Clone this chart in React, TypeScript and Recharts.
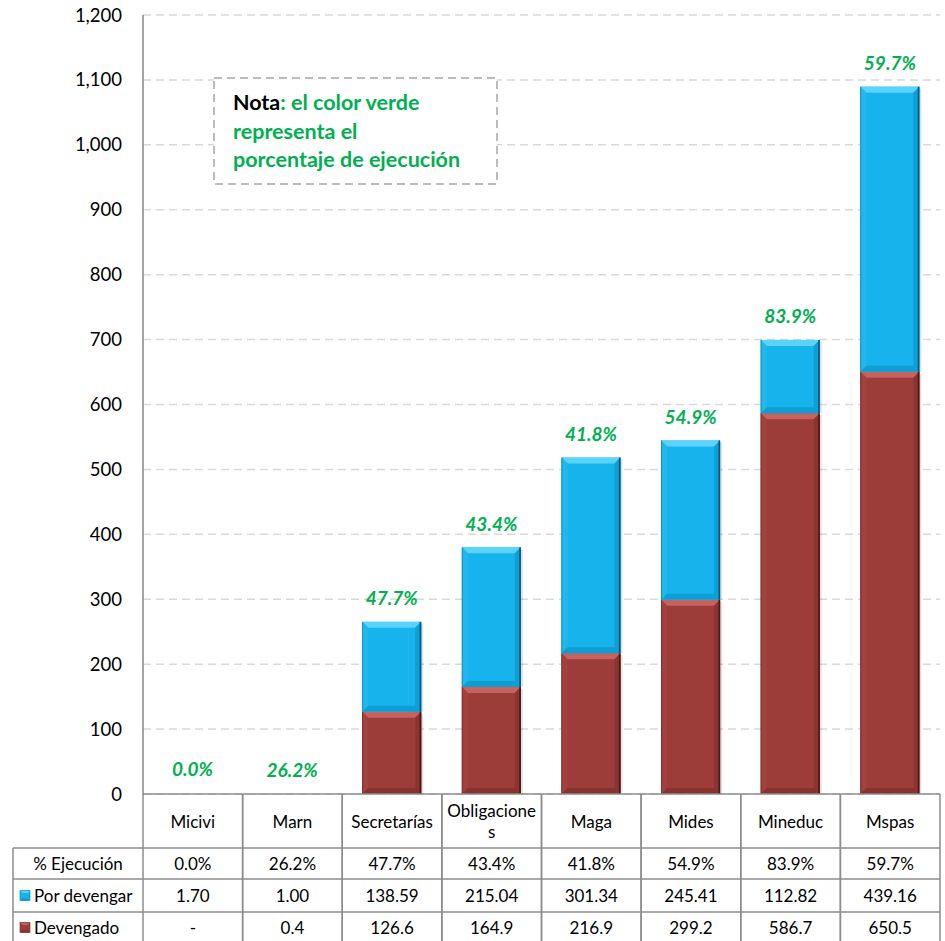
import React from 'react';
import { BarChart, Bar, XAxis, YAxis, CartesianGrid, LabelList } from 'recharts';

const categories = ['Micivi', 'Marn', 'Secretarías', 'Obligaciones', 'Maga', 'Mides', 'Mineduc', 'Mspas'];
const categoryLines = [['Micivi'], ['Marn'], ['Secretarías'], ['Obligacione', 's'], ['Maga'], ['Mides'], ['Mineduc'], ['Mspas']];
const porDevengar = [1.7, 1.0, 138.59, 215.04, 301.34, 245.41, 112.82, 439.16];
const devengado = [0, 0.4, 126.6, 164.9, 216.9, 299.2, 586.7, 650.5];
const ejecucion = [0.0, 26.2, 47.7, 43.4, 41.8, 54.9, 83.9, 59.7];
const yTicks = [0, 100, 200, 300, 400, 500, 600, 700, 800, 900, 1000, 1100, 1200];
const rowLabels = ['% Ejecución', 'Por devengar', 'Devengado'];
const notaLines = ['Nota', ': el color verde', 'representa el', 'porcentaje de ejecución'];

const data = categories.map((c, i) => ({
  name: c,
  devengado: devengado[i],
  porDevengar: porDevengar[i],
  ejecucion: ejecucion[i],
}));

const FONT = 'Lato, "Open Sans", sans-serif';
const GREEN = '#00b050';
const BORDER = '#8c8c8c';
const W = 945;
const H = 941;
const PLOT_LEFT = 143;
const PLOT_RIGHT = 940;
const BAND = (PLOT_RIGHT - PLOT_LEFT) / categories.length;

const BLUE = { base: '#17b3ec', top: '#5ad3fa', left: '#22b8ee', right: '#0f9fd4', bottom: '#0e9ed3', edge: '#0a5878', stroke: '#0c86b5' };
const RED = { base: '#9c3d3a', top: '#c7625e', left: '#a2423f', right: '#8c3432', bottom: '#873130', edge: '#4a1816', stroke: '#7a2a28' };

const bevelShape = (pal: any) => (props: any) => {
  const { x, y, width, height } = props;
  if (!height || height < 2 || !width) return <g />;
  const b = Math.min(6, height / 2, width / 2);
  const x2 = x + width;
  const y2 = y + height;
  return (
    <g>
      <rect x={x2} y={y + 2} width={2} height={height - 2} fill="#000" opacity={0.12} />
      <rect x={x} y={y} width={width} height={height} fill={pal.base} />
      <polygon points={`${x},${y} ${x2},${y} ${x2 - b},${y + b} ${x + b},${y + b}`} fill={pal.top} />
      <polygon points={`${x},${y} ${x + b},${y + b} ${x + b},${y2 - b} ${x},${y2}`} fill={pal.left} />
      <polygon points={`${x2},${y} ${x2 - b},${y + b} ${x2 - b},${y2 - b} ${x2},${y2}`} fill={pal.right} />
      <polygon points={`${x},${y2} ${x + b},${y2 - b} ${x2 - b},${y2 - b} ${x2},${y2}`} fill={pal.bottom} />
      <line x1={x2 - 0.8} y1={y} x2={x2 - 0.8} y2={y2} stroke={pal.edge} strokeWidth={1.6} />
      <line x1={x + 0.4} y1={y} x2={x + 0.4} y2={y2} stroke={pal.stroke} strokeWidth={0.8} />
    </g>
  );
};

const Icon = ({ x, y, pal }: any) => {
  const s = 10;
  const b = 2.5;
  return (
    <g>
      <rect x={x} y={y} width={s} height={s} fill={pal.base} />
      <polygon points={`${x},${y} ${x + s},${y} ${x + s - b},${y + b} ${x + b},${y + b}`} fill={pal.top} />
      <polygon points={`${x},${y + s} ${x + b},${y + s - b} ${x + s - b},${y + s - b} ${x + s},${y + s}`} fill={pal.bottom} />
      <rect x={x} y={y} width={s} height={s} fill="none" stroke={pal.stroke} strokeWidth={0.6} />
    </g>
  );
};

const fmtDev = (v: number) => (v === 0 ? '-' : v.toFixed(1));

const TableTick = (props: any) => {
  const { x, y, payload, index } = props;
  const i = payload && typeof payload.index === 'number' ? payload.index : index;
  const x0 = x - BAND / 2;
  const x1 = x + BAND / 2;
  const rows = [y, y + 54, y + 85, y + 118, y + 152];
  const centers = [(rows[1] + rows[2]) / 2, (rows[2] + rows[3]) / 2, (rows[3] + rows[4] - 3) / 2];
  const lines = categoryLines[i] || [String(payload.value)];
  const headerCenter = (rows[0] + rows[1]) / 2;
  const lh = 21;
  const cellVals = [ejecucion[i].toFixed(1) + '%', porDevengar[i].toFixed(2), fmtDev(devengado[i])];
  const lineProps = { stroke: BORDER, strokeWidth: 1.5 };
  const leftX = 13;
  const fs = 17;
  return (
    <g>
      <line x1={x0} y1={rows[0]} x2={x1} y2={rows[0]} {...lineProps} />
      <line x1={x0} y1={rows[0]} x2={x0} y2={rows[4]} {...lineProps} />
      <line x1={x1} y1={rows[0]} x2={x1} y2={rows[4]} {...lineProps} />
      {rows.slice(1).map((ry, k) => (
        <line key={k} x1={x0} y1={ry} x2={x1} y2={ry} {...lineProps} />
      ))}
      {lines.map((t, k) => (
        <text
          key={k}
          x={x}
          y={headerCenter + (k - (lines.length - 1) / 2) * lh}
          textAnchor="middle"
          dominantBaseline="central"
          fontFamily={FONT}
          fontSize={fs}
          fill="#000"
        >
          {t}
        </text>
      ))}
      {cellVals.map((t, k) => (
        <text key={k} x={x} y={centers[k]} textAnchor="middle" dominantBaseline="central" fontFamily={FONT} fontSize={fs} fill="#000">
          {t}
        </text>
      ))}
      {i === 0 && (
        <g>
          <line x1={leftX} y1={rows[1]} x2={leftX} y2={rows[4]} {...lineProps} />
          {rows.slice(1).map((ry, k) => (
            <line key={k} x1={leftX} y1={ry} x2={x0} y2={ry} {...lineProps} />
          ))}
          <text x={(leftX + x0) / 2} y={centers[0]} textAnchor="middle" dominantBaseline="central" fontFamily={FONT} fontSize={fs} fill="#000">
            {rowLabels[0]}
          </text>
          <Icon x={20} y={centers[1] - 5} pal={BLUE} />
          <text x={34} y={centers[1]} dominantBaseline="central" fontFamily={FONT} fontSize={fs} fill="#000">
            {rowLabels[1]}
          </text>
          <Icon x={20} y={centers[2] - 5} pal={RED} />
          <text x={34} y={centers[2]} dominantBaseline="central" fontFamily={FONT} fontSize={fs} fill="#000">
            {rowLabels[2]}
          </text>
        </g>
      )}
    </g>
  );
};

const PctLabel = (props: any) => {
  const { x, y, width, value } = props;
  return (
    <text
      x={x + width / 2}
      y={y - 24}
      textAnchor="middle"
      dominantBaseline="central"
      fontFamily={FONT}
      fontSize={19}
      fontWeight="bold"
      fontStyle="italic"
      fill={GREEN}
    >
      {Number(value).toFixed(1)}%
    </text>
  );
};

const Nota = () => (
  <svg width={W} height={H} style={{ position: 'absolute', left: 0, top: 0, pointerEvents: 'none' }}>
    <rect x={214} y={78} width={283} height={106} fill="#fff" stroke="#a6a6a6" strokeWidth={1.5} strokeDasharray="8 5" />
    <text x={233} y={110} fontFamily={FONT} fontSize={21.5} fontWeight="bold">
      <tspan fill="#000">{notaLines[0]}</tspan>
      <tspan fill={GREEN}>{notaLines[1]}</tspan>
    </text>
    <text x={233} y={139} fontFamily={FONT} fontSize={21.5} fontWeight="bold" fill={GREEN}>
      {notaLines[2]}
    </text>
    <text x={233} y={167} fontFamily={FONT} fontSize={21.5} fontWeight="bold" fill={GREEN}>
      {notaLines[3]}
    </text>
  </svg>
);

export default function App() {
  return (
    <div style={{ position: 'absolute', left: 0, top: 0, width: W, height: H, background: '#fff', overflow: 'hidden' }}>
      <BarChart width={W} height={H} data={data} margin={{ top: 15, right: W - PLOT_RIGHT, left: 0, bottom: 0 }}>
        <CartesianGrid vertical={false} stroke="#d9d9d9" strokeWidth={1.5} strokeDasharray="8 5" />
        <XAxis
          dataKey="name"
          height={H - 15 - 779}
          axisLine={false}
          tickLine={false}
          tickSize={0}
          tickMargin={0}
          interval={0}
          tick={<TableTick />}
        />
        <YAxis
          width={PLOT_LEFT}
          domain={[0, 1200]}
          ticks={yTicks}
          interval={0}
          tickLine={false}
          tickSize={0}
          tickMargin={21}
          axisLine={{ stroke: '#868686', strokeWidth: 1.5 }}
          tick={{ fontFamily: FONT, fontSize: 18.5, fill: '#000' }}
          tickFormatter={(v: number) => v.toLocaleString('en-US')}
        />
        <Bar dataKey="devengado" stackId="a" barSize={59} isAnimationActive={false} shape={bevelShape(RED)} />
        <Bar dataKey="porDevengar" stackId="a" barSize={59} isAnimationActive={false} shape={bevelShape(BLUE)}>
          <LabelList dataKey="ejecucion" content={<PctLabel />} />
        </Bar>
      </BarChart>
      <Nota />
    </div>
  );
}
